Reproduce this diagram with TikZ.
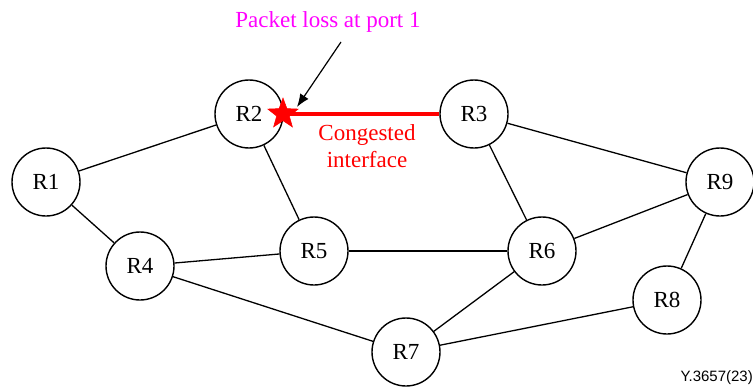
\documentclass[tikz,border=0pt]{standalone}
\usepackage{fontspec}
\setmainfont{Liberation Serif}
\newfontfamily\labelsans{Liberation Sans}
\usetikzlibrary{shapes.geometric,arrows.meta}
\definecolor{pink1}{RGB}{255,0,255}
\definecolor{red1}{RGB}{255,0,0}
\begin{document}
\begin{tikzpicture}[x=1pt,y=-1pt,
  router/.style={circle,draw=black,line width=1.4pt,minimum size=68pt,inner sep=0pt,fill=white,font=\fontsize{23}{25}\selectfont},
  link/.style={line width=1.3pt,draw=black},
  burst/.style={star,star points=5,star point ratio=2.4,minimum size=32pt,inner sep=0pt,fill=red1,draw=red1,line width=0.5pt}]
\useasboundingbox (0,0) rectangle (753,388);
\node[router] (R1) at (46,182) {R1};
\node[router] (R2) at (249,114) {R2};
\node[router] (R3) at (474,114) {R3};
\node[router] (R4) at (140,266) {R4};
\node[router] (R5) at (314,251) {R5};
\node[router] (R6) at (542,251) {R6};
\node[router] (R7) at (406,352) {R7};
\node[router] (R8) at (667,300) {R8};
\node[router] (R9) at (720,182) {R9};
\draw[link] (R1) -- (R2);
\draw[link] (R1) -- (R4);
\draw[link] (R2) -- (R5);
\draw[link] (R3) -- (R6);
\draw[link] (R3) -- (R9);
\draw[link] (R4) -- (R5);
\draw[link] (R4) -- (R7);
\draw[link] (R5) -- (R6);
\draw[link] (R6) -- (R7);
\draw[link] (R6) -- (R9);
\draw[link] (R9) -- (R8);
\draw[link] (R7) -- (R8);
\coordinate (starc) at (283,114);
\draw[line width=3.8pt,red1] (starc) -- (R3.west);
\node[burst] (star) at (starc) {};
\node[text=red1,align=center,font=\fontsize{23}{27}\selectfont] (cong) at (367,146) {Congested\\interface};
\node[text=pink1,font=\fontsize{23}{26}\selectfont] (pl) at (328,22) {Packet loss at port 1};
\coordinate (astart) at (341,42);
\coordinate (atip) at (297,107);
\draw[line width=1.2pt,-{Latex[length=13pt,width=10pt]}] (astart) -- (atip);
\node[anchor=east,font=\labelsans\fontsize{15}{17}\selectfont,inner sep=0pt] (ref) at (753,378) {Y.3657(23)};
\end{tikzpicture}
\end{document}
